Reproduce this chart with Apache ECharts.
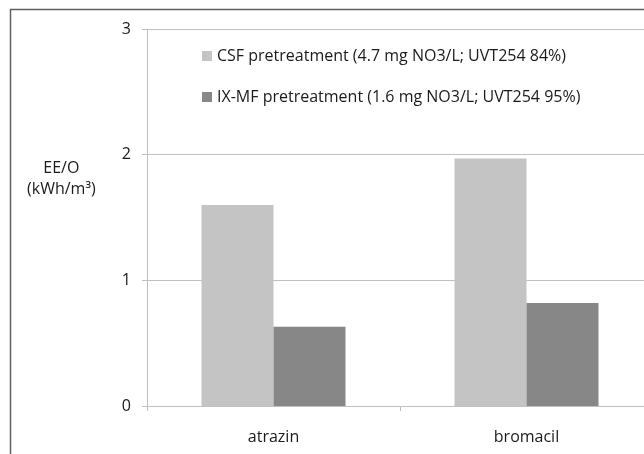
<!DOCTYPE html>
<html>
<head>
<meta charset="utf-8">
<script src="https://cdn.jsdelivr.net/npm/echarts@6/dist/echarts.min.js"></script>
<style>
html,body{margin:0;padding:0;width:644px;height:454px;overflow:hidden;background:#fff;}
#c{width:670px;height:454px;}
</style>
</head>
<body>
<div id="c"></div>
<script>
var categories = ['atrazin', 'bromacil'];
var seriesNames = ['CSF pretreatment (4.7 mg NO3/L; UVT254 84%)', 'IX-MF pretreatment (1.6 mg NO3/L; UVT254 95%)'];
var csfValues = [1.6, 1.97];
var ixmfValues = [0.63, 0.82];
var yTicks = [0, 1, 2, 3];
var yName = 'EE/O\n(kWh/m³)';

var font = 'Open Sans';
var fs = 16;
var chart = echarts.init(document.getElementById('c'), null, {renderer: 'canvas'});
chart.setOption({
  backgroundColor: '#fff',
  animation: false,
  textStyle: {fontFamily: font},
  grid: {left: 147, right: 17, top: 29, bottom: 48, containLabel: false},
  legend: {
    orient: 'vertical', left: 197, top: 43,
    itemWidth: 10, itemHeight: 10, itemGap: 25,
    icon: 'rect',
    textStyle: {fontFamily: font, fontSize: fs, color: '#1a1a1a'},
    data: seriesNames
  },
  graphic: [
    {type: 'rect', silent: true, shape: {x: 10.5, y: 9.5, width: 900, height: 700},
     style: {fill: 'none', stroke: '#5f5f5f', lineWidth: 1.5}, z: -1},
    {type: 'text', left: 27, top: 158,
     style: {text: yName, font: fs + 'px "Open Sans"', fill: '#1a1a1a', textAlign: 'center', lineHeight: 21, x: 38}}
  ],
  xAxis: {
    type: 'category', data: categories,
    axisLine: {lineStyle: {color: '#bfbfbf', width: 1}},
    axisTick: {show: true, length: 5, lineStyle: {color: '#bfbfbf'}},
    axisLabel: {fontFamily: font, fontSize: fs, color: '#1a1a1a', margin: 23}
  },
  yAxis: {
    type: 'value', min: yTicks[0], max: yTicks[yTicks.length - 1], interval: 1,
    axisLine: {show: true, lineStyle: {color: '#bfbfbf', width: 1}},
    axisTick: {show: true, length: 5, lineStyle: {color: '#bfbfbf'}},
    splitLine: {show: true, lineStyle: {color: '#bfbfbf', width: 1}},
    axisLabel: {fontFamily: font, fontSize: fs, color: '#1a1a1a', margin: 16}
  },
  series: [
    {name: seriesNames[0], type: 'bar', data: csfValues, barWidth: 72, barGap: '0%',
     itemStyle: {color: '#c4c4c4'}},
    {name: seriesNames[1], type: 'bar', data: ixmfValues, barWidth: 72, barGap: '0%',
     itemStyle: {color: '#878787'}}
  ]
});
</script>
</body>
</html>
